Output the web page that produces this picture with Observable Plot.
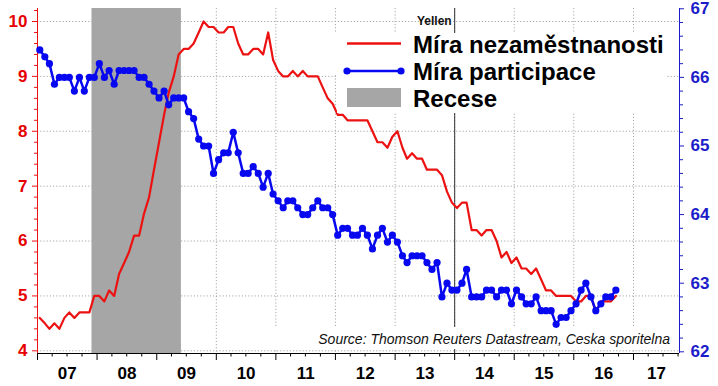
<!DOCTYPE html>
<html>
<head>
<meta charset="utf-8">
<script src="https://cdn.jsdelivr.net/npm/d3@7"></script>
<script src="https://cdn.jsdelivr.net/npm/@observablehq/plot@0.6"></script>
<style>
html, body { margin: 0; padding: 0; background: #fff; }
#chart { width: 718px; height: 386px; }
</style>
</head>
<body>
<div id="chart"></div>
<script>
// ---------------- data ----------------
const startYear = 2007; // first month: January 2007, monthly values
const unemployment = [
  4.6, 4.5, 4.4, 4.5, 4.4, 4.6, 4.7, 4.6, 4.7, 4.7, 4.7, 5.0,
  5.0, 4.9, 5.1, 5.0, 5.4, 5.6, 5.8, 6.1, 6.1, 6.5, 6.8, 7.3,
  7.8, 8.3, 8.7, 9.0, 9.4, 9.5, 9.5, 9.6, 9.8, 10.0, 9.9, 9.9,
  9.8, 9.8, 9.9, 9.9, 9.6, 9.4, 9.4, 9.5, 9.5, 9.4, 9.8, 9.3,
  9.1, 9.0, 9.0, 9.1, 9.0, 9.1, 9.0, 9.0, 9.0, 8.8, 8.6, 8.5,
  8.3, 8.3, 8.2, 8.2, 8.2, 8.2, 8.2, 8.0, 7.8, 7.8, 7.7, 7.9,
  8.0, 7.7, 7.5, 7.6, 7.5, 7.5, 7.3, 7.3, 7.3, 7.2, 6.9, 6.7,
  6.6, 6.7, 6.7, 6.2, 6.2, 6.1, 6.2, 6.2, 6.0, 5.7, 5.8, 5.6,
  5.7, 5.5, 5.5, 5.4, 5.5, 5.3, 5.1, 5.1, 5.0, 5.0, 5.0, 5.0,
  4.9, 4.9, 5.0, 5.0, 4.7, 4.9, 4.9, 4.9, 5.0
];
const participation = [
  66.4, 66.3, 66.2, 65.9, 66.0, 66.0, 66.0, 65.8, 66.0, 65.8, 66.0, 66.0,
  66.2, 66.0, 66.1, 65.9, 66.1, 66.1, 66.1, 66.1, 66.0, 66.0, 65.9, 65.8,
  65.7, 65.8, 65.6, 65.7, 65.7, 65.7, 65.5, 65.4, 65.1, 65.0, 65.0, 64.6,
  64.8, 64.9, 64.9, 65.2, 64.9, 64.6, 64.6, 64.7, 64.6, 64.4, 64.6, 64.3,
  64.2, 64.1, 64.2, 64.2, 64.1, 64.0, 64.0, 64.1, 64.2, 64.1, 64.1, 64.0,
  63.7, 63.8, 63.8, 63.7, 63.7, 63.8, 63.7, 63.5, 63.7, 63.8, 63.6, 63.7,
  63.6, 63.4, 63.3, 63.4, 63.4, 63.4, 63.3, 63.2, 63.3, 62.8, 63.0, 62.9,
  62.9, 63.0, 63.2, 62.8, 62.8, 62.8, 62.9, 62.9, 62.8, 62.9, 62.9, 62.7,
  62.9, 62.8, 62.7, 62.7, 62.8, 62.6, 62.6, 62.6, 62.4, 62.5, 62.5, 62.6,
  62.7, 62.9, 63.0, 62.8, 62.6, 62.7, 62.8, 62.8, 62.9
];
const leftTicks = [4, 5, 6, 7, 8, 9, 10];
const rightTicks = [62, 63, 64, 65, 66, 67];
const yearLabels = ["07", "08", "09", "10", "11", "12", "13", "14", "15", "16", "17"];
const recessionStart = [2007, 11]; // Dec 2007
const recessionEnd = [2009, 5];    // Jun 2009
const yellenMonth = [2014, 0];
const yellenLabel = "Yellen";
const legendLabels = ["Míra nezaměstnanosti", "Míra participace", "Recese"];
const sourceText = "Source: Thomson Reuters Datastream, Ceska sporitelna";

// ---------------- styling ----------------
const RED = "rgb(236,18,18)";
const RED_TXT = "rgb(230,0,0)";
const BLUE = "rgb(8,8,240)";
const BLUE_TXT = "rgb(28,28,200)";
const GREY = "#a6a6a6";
const GRID = "#a8a8a8";

// scales
const X0 = new Date(Date.UTC(2007, 0, 1));
const X1 = new Date(Date.UTC(2017, 9, 10));
const L0 = 3.951, L1 = 10.237;
const toLeft = r => 3.982 + (r - 62) * 1.25;     // right-axis value -> left scale
const fromLeft = l => (l - 3.982) / 1.25 + 62;

const rows = unemployment.map((u, i) => ({
  date: new Date(Date.UTC(startYear, i, 15)),
  u,
  p: participation[i]
}));

const years = d3.range(2007, 2018);
const gridYears = years.slice(1).map(y => new Date(Date.UTC(y, 0, 1)));
const yearTicks = years.map(y => new Date(Date.UTC(y, 0, 1)));
const quarterTicks = [];
years.forEach(y => [3, 6, 9].forEach(m => {
  const d = new Date(Date.UTC(y, m, 1));
  if (d < X1) quarterTicks.push(d);
}));
const labelPos = years.map((y, i) => {
  const a = Date.UTC(y, 0, 1);
  const b = Math.min(Date.UTC(y + 1, 0, 1), +X1);
  return {date: new Date((a + b) / 2), label: yearLabels[i]};
});
const leftMinor = d3.range(40, 103, 2).map(v => v / 10).filter(v => !leftTicks.includes(v));
const rightMinor = d3.range(620, 671, 2).map(v => v / 10).filter(v => v <= 67.01 && !rightTicks.includes(v));

const recession = [{
  start: new Date(Date.UTC(recessionStart[0], recessionStart[1], 1)),
  end: new Date(Date.UTC(recessionEnd[0], recessionEnd[1], 1))
}];
const yellen = [{date: new Date(Date.UTC(yellenMonth[0], yellenMonth[1], 1)), label: yellenLabel}];

const chart = Plot.plot({
  width: 718,
  height: 386,
  marginLeft: 37,
  marginRight: 39,
  marginTop: 8,
  marginBottom: 33,
  style: "font-family:'Liberation Sans',Arial,sans-serif;font-weight:bold;background:#fff;overflow:visible",
  x: {type: "utc", domain: [X0, X1], axis: null, label: null},
  y: {domain: [L0, L1], axis: null, label: null},
  marks: [
    Plot.rect(recession, {x1: "start", x2: "end", fill: GREY}),
    Plot.gridX(gridYears, {stroke: GRID, strokeOpacity: 1, strokeDasharray: "1.2,2"}),
    Plot.gridY(leftTicks, {stroke: GRID, strokeOpacity: 1, strokeDasharray: "1.2,2"}),
    Plot.ruleX(yellen, {x: "date", stroke: "#333", strokeWidth: 1}),
    Plot.text(yellen, {x: "date", text: "label", frameAnchor: "top", textAnchor: "end", dx: -3, dy: 8, fontSize: 12, fontWeight: "bold", fill: "#111"}),
    // left axis
    Plot.ruleX([X0], {stroke: RED, strokeWidth: 1}),
    Plot.axisY(leftTicks, {anchor: "left", label: null, tickSize: 5, tickPadding: 5, color: RED_TXT, stroke: RED, fontSize: 17, fontWeight: "bold", tickFormat: d => String(d)}),
    Plot.axisY(leftMinor, {anchor: "left", label: null, tickSize: 3, stroke: RED, tickFormat: () => ""}),
    // right axis
    Plot.ruleX([X1], {stroke: BLUE_TXT, strokeWidth: 1}),
    Plot.axisY(rightTicks.map(toLeft), {anchor: "right", label: null, tickSize: 4, tickPadding: 7, color: BLUE_TXT, stroke: BLUE_TXT, fontSize: 17, fontWeight: "bold", tickFormat: d => String(Math.round(fromLeft(d)))}),
    Plot.axisY(rightMinor.map(toLeft), {anchor: "right", label: null, tickSize: 3, stroke: BLUE_TXT, tickFormat: () => ""}),
    // bottom axis
    Plot.ruleY([L0], {stroke: "#000", strokeWidth: 1}),
    Plot.axisX(yearTicks, {anchor: "bottom", label: null, tickSize: 7, stroke: "#000", tickFormat: () => ""}),
    Plot.axisX(quarterTicks, {anchor: "bottom", label: null, tickSize: 3.5, stroke: "#000", tickFormat: () => ""}),
    Plot.axisX(labelPos.map(d => d.date), {anchor: "bottom", label: null, tickSize: 0, tickPadding: 13, fontSize: 17, fontWeight: "bold", color: "#000",
      tickFormat: d => labelPos.find(l => +l.date === +d).label}),
    // data
    Plot.line(rows, {x: "date", y: "u", stroke: RED, strokeWidth: 2.2}),
    Plot.line(rows, {x: "date", y: d => toLeft(d.p), stroke: BLUE, strokeWidth: 2.5}),
    Plot.dot(rows, {x: "date", y: d => toLeft(d.p), r: 3.6, fill: BLUE, stroke: "none"})
  ]
});

document.getElementById("chart").appendChild(chart);

const svg = d3.select(chart);
// source note (behind the data lines)
svg.insert("rect", 'g[aria-label="line"]')
  .attr("x", 260).attr("y", 327).attr("width", 412).attr("height", 22).attr("fill", "#fff");
svg.insert("text", 'g[aria-label="line"]')
  .attr("x", 670).attr("y", 343.5).attr("text-anchor", "end")
  .attr("font-size", 14).attr("font-style", "italic").attr("font-weight", "normal")
  .attr("fill", "#111").text(sourceText);

// legend
const lg = svg.append("g").attr("text-anchor", "start");
lg.append("rect").attr("x", 328).attr("y", 33).attr("width", 338).attr("height", 41).attr("fill", "#fff");
lg.append("rect").attr("x", 337).attr("y", 74).attr("width", 329).attr("height", 39).attr("fill", "#fff");
lg.append("line").attr("x1", 347).attr("x2", 401).attr("y1", 43.5).attr("y2", 43.5)
  .attr("stroke", RED).attr("stroke-width", 2.5);
lg.append("line").attr("x1", 347).attr("x2", 401).attr("y1", 71).attr("y2", 71)
  .attr("stroke", BLUE).attr("stroke-width", 2.5);
[347, 401].forEach(cx => lg.append("circle").attr("cx", cx).attr("cy", 71).attr("r", 3.6).attr("fill", BLUE));
lg.append("rect").attr("x", 347).attr("y", 88).attr("width", 54).attr("height", 19).attr("fill", GREY);
legendLabels.forEach((t, i) => {
  lg.append("text").attr("x", 413).attr("y", 53 + i * 27).attr("text-anchor", "start")
    .attr("font-size", 24).attr("font-weight", "bold").attr("fill", "#000").text(t);
});
</script>
</body>
</html>
